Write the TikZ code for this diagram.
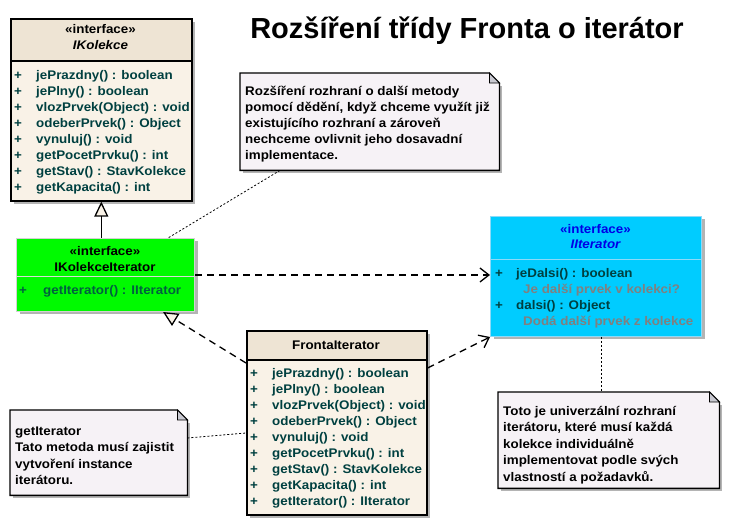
\documentclass[tikz,border=0pt]{standalone}
\usepackage{fontspec}
\setmainfont[FakeStretch=1.07]{Liberation Sans}
\newfontfamily\titlefont{Liberation Sans}
\usetikzlibrary{arrows.meta,shadows}

\definecolor{classfill}{RGB}{249,242,231}
\definecolor{headfill}{RGB}{238,228,212}
\definecolor{ifgreen}{RGB}{0,250,0}
\definecolor{ifcyan}{RGB}{0,204,255}
\definecolor{notefill}{RGB}{246,242,246}
\definecolor{foldgray}{RGB}{200,200,208}
\definecolor{shadowgray}{RGB}{180,180,180}
\definecolor{memtext}{RGB}{0,64,64}
\definecolor{greentext}{RGB}{0,96,64}
\definecolor{stereoblue}{RGB}{0,0,230}
\definecolor{commentgray}{RGB}{128,128,128}

\tikzset{
  txt/.style={inner sep=0pt,text height=9pt,text depth=4pt,font=\bfseries\fontsize{12.5}{14}\selectfont},
  ifname/.style={txt,font=\bfseries\itshape\fontsize{12.5}{14}\selectfont},
  member/.style={txt,anchor=west,text=memtext},
  plus/.style={txt,text=memtext},
  classbox/.style={draw=black,line width=1.6pt,fill=classfill,anchor=north west,inner sep=0pt,
    drop shadow={shadow xshift=3pt,shadow yshift=-3pt,fill=shadowgray,opacity=1}},
  ifbox/.style={line width=1pt,anchor=north west,inner sep=0pt,
    drop shadow={shadow xshift=3pt,shadow yshift=-3pt,fill=shadowgray,opacity=1}},
  header/.style={path picture={\fill[headfill] (path picture bounding box.north west)
    rectangle ([yshift=-#1]path picture bounding box.north east);}},
  notebox/.style={anchor=north west,inner sep=0pt},
  realize/.style={dash pattern=on 7pt off 5pt,line width=1.3pt},
  noteline/.style={dash pattern=on 2pt off 2pt,line width=0.8pt},
  hollow/.style={-{Triangle[fill=classfill,length=15pt,width=14pt]}},
  barb/.style={-{Straight Barb[length=9pt,width=14pt]}}
}

\begin{document}
\begin{tikzpicture}[x=1pt,y=-1pt]
 \useasboundingbox[fill=white] (0,0) rectangle (748,526);
 \node[font=\titlefont\bfseries\fontsize{29}{32}\selectfont,inner sep=0pt] (title) at (467,31) {Rozšíření třídy Fronta o iterátor};

 %% interface IKolekce
 \node[classbox,header=43pt,minimum width=181,minimum height=182] (ikol) at (10,18) {};
 \node[txt] (ikolst) at (100.5,31) {«interface»};
 \node[ifname] (ikolname) at (100.5,47) {IKolekce};
 \draw[line width=1.6pt] (ikol.west |- 0,61) -- (ikol.east |- 0,61);
 \foreach \t [count=\i] in {jePrazdny() : boolean,jePlny() : boolean,vlozPrvek(Object) : void,odeberPrvek() : Object,vynuluj() : void,getPocetPrvku() : int,getStav() : StavKolekce,getKapacita() : int}{
  \node[plus] (ikolp\i) at (18,61+16*\i) {+};
  \node[member] (ikolm\i) at (36,61+16*\i) {\t};
 }

 %% interface IKolekceIterator
 \node[ifbox,fill=ifgreen,draw=gray!35,minimum width=178,minimum height=73] (ikit) at (16,238) {};
 \node[txt] (ikitst) at (105,253) {«interface»};
 \node[txt] (ikitname) at (105,269) {IKolekceIterator};
 \draw[gray!30,line width=1pt] (ikit.west |- 0,277) -- (ikit.east |- 0,277);
 \node[plus,text=greentext] (ikitp1) at (23,292) {+};
 \node[member,text=greentext] (ikitm1) at (43,292) {getIterator() : IIterator};

 %% interface IIterator
 \node[ifbox,fill=ifcyan,draw=cyan!45,minimum width=211,minimum height=120] (iit) at (490,216) {};
 \node[txt,text=stereoblue] (iitst) at (595.5,231) {«interface»};
 \node[ifname,text=stereoblue] (iitname) at (595.5,246) {IIterator};
 \draw[cyan!45,line width=1pt] (iit.west |- 0,260) -- (iit.east |- 0,260);
 \foreach \m/\c [count=\i] in {jeDalsi() : boolean/Je další prvek v kolekci?,dalsi() : Object/Dodá další prvek z kolekce}{
  \node[plus] (iitp\i) at (499,243+32*\i) {+};
  \node[member] (iitm\i) at (516,243+32*\i) {\m};
  \node[member,text=commentgray] (iitc\i) at (523,259+32*\i) {\c};
 }

 %% class FrontaIterator
 \node[classbox,header=30pt,minimum width=180,minimum height=184] (fit) at (246,330) {};
 \node[txt] (fitname) at (336,347) {FrontaIterator};
 \draw[line width=1.6pt] (fit.west |- 0,360) -- (fit.east |- 0,360);
 \foreach \t [count=\i] in {jePrazdny() : boolean,jePlny() : boolean,vlozPrvek(Object) : void,odeberPrvek() : Object,vynuluj() : void,getPocetPrvku() : int,getStav() : StavKolekce,getKapacita() : int,getIterator() : IIterator}{
  \node[plus] (fitp\i) at (254,359+16*\i) {+};
  \node[member] (fitm\i) at (272,359+16*\i) {\t};
 }

 %% notes
 \node[notebox,minimum width=259,minimum height=97] (note1) at (240,73) {};
 \node[notebox,minimum width=177,minimum height=85] (note2) at (10,410) {};
 \node[notebox,minimum width=221,minimum height=96] (note3) at (498,392) {};
 \foreach \n in {note1,note2,note3}{
  \fill[shadowgray] ([xshift=3pt,yshift=-13pt]\n.north east) rectangle ([xshift=3pt,yshift=-3pt]\n.south west);
  \draw[line width=1.3pt,fill=notefill] (\n.north west) -- ([xshift=-10pt]\n.north east) -- ([yshift=-10pt]\n.north east) -- (\n.south east) -- (\n.south west) -- cycle;
  \draw[line width=0.8pt,fill=foldgray] ([xshift=-10pt]\n.north east) -- ([xshift=-10pt,yshift=-10pt]\n.north east) -- ([yshift=-10pt]\n.north east) -- cycle;
 }
 \foreach \t [count=\i] in {Rozšíření rozhraní o další metody,{pomocí dědění, když chceme využít již},existujícího rozhraní a zároveň,nechceme ovlivnit jeho dosavadní,implementace.}{
  \node[txt,anchor=west] (note1l\i) at (245,77+16*\i) {\t};
 }
 \foreach \t [count=\i] in {getIterator,Tato metoda musí zajistit,vytvoření instance,iterátoru.}{
  \node[txt,anchor=west] (note2l\i) at (15,416.5+16.5*\i) {\t};
 }
 \foreach \t [count=\i] in {Toto je univerzální rozhraní,{iterátoru, které musí každá},kolekce individuálně,implementovat podle svých,vlastností a požadavků.}{
  \node[txt,anchor=west] (note3l\i) at (503,396.5+16.5*\i) {\t};
 }

 %% connectors
 \draw[line width=1.3pt,hollow] (ikit.north -| ikol.south) -- (ikol.south);
 \draw[realize,barb] (ikit.east) -- (iit.west |- ikit.east);
 \draw[realize,hollow] ([yshift=-33pt]fit.north west) -- ([xshift=147pt]ikit.south west);
 \draw[realize,barb] ([yshift=-38pt]fit.north east) -- (iit.south west);
 \draw[noteline] ([xshift=40pt]note1.south west) -- ([xshift=152pt]ikit.north west);
 \draw[noteline] ([yshift=-28pt]note2.north east) -- ([yshift=-103pt]fit.north west);
 \draw[noteline] ([xshift=5pt]iit.south) -- ([xshift=5pt]iit.south |- note3.north);
\end{tikzpicture}
\end{document}
